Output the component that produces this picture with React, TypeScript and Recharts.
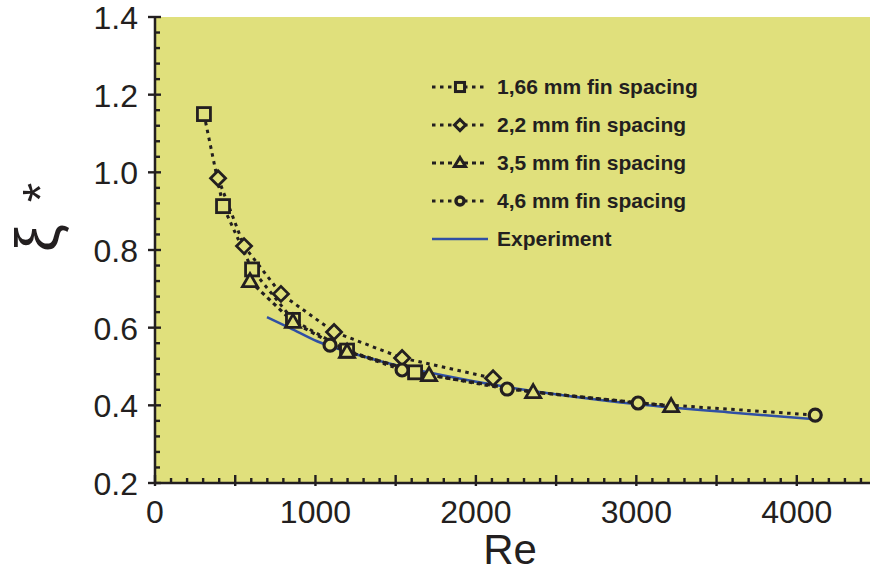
import React from 'react';
import { LineChart, Line, XAxis, YAxis, CartesianGrid, Legend, Label } from 'recharts';

// ---- data ----
const spacing166 = [
  { re: 305, xi: 1.15 },
  { re: 424, xi: 0.913 },
  { re: 605, xi: 0.75 },
  { re: 860, xi: 0.62 },
  { re: 1197, xi: 0.541 },
  { re: 1621, xi: 0.485 },
];
const spacing22 = [
  { re: 393, xi: 0.985 },
  { re: 555, xi: 0.81 },
  { re: 785, xi: 0.687 },
  { re: 1116, xi: 0.589 },
  { re: 1540, xi: 0.522 },
  { re: 2107, xi: 0.47 },
];
const spacing35 = [
  { re: 592, xi: 0.72 },
  { re: 860, xi: 0.615 },
  { re: 1197, xi: 0.538 },
  { re: 1708, xi: 0.478 },
  { re: 2357, xi: 0.434 },
  { re: 3217, xi: 0.398 },
];
const spacing46 = [
  { re: 1091, xi: 0.555 },
  { re: 1540, xi: 0.491 },
  { re: 2195, xi: 0.442 },
  { re: 3011, xi: 0.406 },
  { re: 4115, xi: 0.375 },
];
const experiment = [
  { re: 698, xi: 0.627 },
  { re: 842, xi: 0.599 },
  { re: 1010, xi: 0.565 },
  { re: 1216, xi: 0.536 },
  { re: 1421, xi: 0.512 },
  { re: 1800, xi: 0.477 },
  { re: 2195, xi: 0.447 },
  { re: 2600, xi: 0.423 },
  { re: 3011, xi: 0.403 },
  { re: 3604, xi: 0.381 },
  { re: 4096, xi: 0.365 },
];

const xLabelTicks = [0, 1000, 2000, 3000, 4000];
const xMajorTicks = [0, 500, 1000, 1500, 2000, 2500, 3000, 3500, 4000, 4500];
const yLabelTicks = [0.2, 0.4, 0.6, 0.8, 1.0, 1.2, 1.4];
const seriesNames = ['1,66 mm fin spacing', '2,2 mm fin spacing', '3,5 mm fin spacing', '4,6 mm fin spacing', 'Experiment'];

const X_DOMAIN: [number, number] = [0, 4500];
const Y_DOMAIN: [number, number] = [0.2, 1.4];
const xMinorTicks = Array.from({ length: 46 }, (_, i) => i * 100);
const yMinorTicks = Array.from({ length: 31 }, (_, i) => Math.round((0.2 + i * 0.04) * 100) / 100);

const INK = '#231f20';
const BG = '#e0e07c';
const BLUE = '#3050a4';
const FONT = '"Liberation Sans", Arial, Helvetica, sans-serif';

const near = (arr: number[], v: number) => arr.some((a) => Math.abs(a - v) < 1e-6);

const BottomTick = (props: any) => {
  const { x, y, payload } = props;
  const v = payload.value;
  const major = near(xMajorTicks, v);
  return (
    <g>
      <line x1={x} x2={x} y1={major ? y - 8 : y - 5} y2={major ? y + 3 : y} stroke={INK} strokeWidth={2.4} />
      {near(xLabelTicks, v) && (
        <text x={x} y={y + 40} textAnchor="middle" fontSize={32} fontFamily={FONT} fill={INK}>
          {v}
        </text>
      )}
    </g>
  );
};

const TopTick = (props: any) => {
  const { x, y, payload } = props;
  const major = near(xMajorTicks, payload.value);
  return <line x1={x} x2={x} y1={y} y2={major ? y + 8 : y + 6} stroke={INK} strokeWidth={2.4} />;
};

const LeftTick = (props: any) => {
  const { x, y, payload } = props;
  const v = payload.value;
  const major = near(yLabelTicks, v);
  return (
    <g>
      <line x1={major ? x - 7 : x} x2={major ? x + 6 : x + 5} y1={y} y2={y} stroke={INK} strokeWidth={2.4} />
      {major && (
        <text x={x - 17} y={y + 12} textAnchor="end" fontSize={32} fontFamily={FONT} fill={INK}>
          {v.toFixed(1)}
        </text>
      )}
    </g>
  );
};

const Marker = ({ cx, cy, kind, size = 1, sw = 2.8 }: { cx: number; cy: number; kind: string; size?: number; sw?: number }) => {
  const s = 6.5 * size;
  const common = { fill: BG, stroke: INK, strokeWidth: sw };
  if (kind === 'square') return <rect x={cx - s} y={cy - s} width={2 * s} height={2 * s} {...common} />;
  if (kind === 'diamond')
    return <polygon points={`${cx},${cy - s - 1} ${cx + s + 1},${cy} ${cx},${cy + s + 1} ${cx - s - 1},${cy}`} {...common} />;
  if (kind === 'triangle')
    return <polygon points={`${cx},${cy - s - 1} ${cx + s + 1},${cy + s - 1} ${cx - s - 1},${cy + s - 1}`} {...common} />;
  return <circle cx={cx} cy={cy} r={s - 0.5} fill={BG} stroke={INK} strokeWidth={sw + 0.4} />;
};

const dotFor = (kind: string) => (p: any) => {
  if (p.cx == null || p.cy == null) return <g key={p.key ?? p.index} />;
  return (
    <g key={`${kind}-${p.index}`}>
      <Marker cx={p.cx} cy={p.cy} kind={kind} />
    </g>
  );
};

const kinds = ['square', 'diamond', 'triangle', 'circle', 'line'];
const dashes = ['3.5 4.5', '3.5 4.5', '4 4', '3.5 4.5'];

const LegendContent = () => (
  <div style={{ fontFamily: FONT, fontWeight: 'bold', fontSize: 21, color: INK }}>
    {seriesNames.map((name, i) => (
      <div key={name} style={{ height: 38, display: 'flex', alignItems: 'center' }}>
        <svg width={67} height={24} style={{ display: 'block' }}>
          {kinds[i] === 'line' ? (
            <line x1={2} x2={58} y1={12} y2={12} stroke={BLUE} strokeWidth={2.5} />
          ) : (
            <>
              <line x1={2} x2={58} y1={12} y2={12} stroke={INK} strokeWidth={3} strokeDasharray={dashes[i]} />
              <Marker cx={30} cy={12} kind={kinds[i]} size={0.7} sw={3} />
            </>
          )}
        </svg>
        <span style={{ whiteSpace: 'nowrap' }}>{name}</span>
      </div>
    ))}
  </div>
);

export default function App() {
  return (
    <div style={{ position: 'absolute', left: 0, top: 0, width: 870, height: 574, overflow: 'hidden', background: '#fff' }}>
      <LineChart width={890} height={574} margin={{ top: 17, right: 13, left: 0, bottom: 0 }}>
        <CartesianGrid horizontal={false} vertical={false} fill={BG} stroke="none" />
        <XAxis
          xAxisId="top"
          orientation="top"
          type="number"
          dataKey="re"
          domain={X_DOMAIN}
          ticks={xMinorTicks}
          interval={0}
          height={0}
          tickSize={0}
          tickMargin={0}
          tickLine={false}
          tick={<TopTick />}
          axisLine={{ stroke: INK, strokeWidth: 2.5 }}
          allowDataOverflow
        />
        <XAxis
          type="number"
          dataKey="re"
          domain={X_DOMAIN}
          ticks={xMinorTicks}
          interval={0}
          height={91}
          tickSize={0}
          tickMargin={0}
          tickLine={false}
          tick={<BottomTick />}
          axisLine={{ stroke: INK, strokeWidth: 2.5 }}
          allowDataOverflow
        >
          <Label
            content={() => (
              <text x={510} y={564} textAnchor="middle" fontSize={42} fontFamily={FONT} fill={INK}>
                Re
              </text>
            )}
          />
        </XAxis>
        <YAxis
          type="number"
          dataKey="xi"
          domain={Y_DOMAIN}
          ticks={yMinorTicks}
          interval={0}
          width={155}
          tickSize={0}
          tickMargin={0}
          tickLine={false}
          tick={<LeftTick />}
          axisLine={{ stroke: INK, strokeWidth: 2.5 }}
          allowDataOverflow
        >
          <Label
            content={() => (
              <text
                x={58}
                y={252}
                transform="rotate(-90 58 252)"
                textAnchor="start"
                fontFamily={FONT}
                fill={INK}
              >
                <tspan fontSize={62}>ξ</tspan>
                <tspan dx={22} fontSize={50}>*</tspan>
              </text>
            )}
          />
        </YAxis>
        <Legend
          layout="vertical"
          align="center"
          verticalAlign="middle"
          content={<LegendContent />}
          wrapperStyle={{ left: 430, top: 68, width: 300, height: 200 }}
        />
        <Line data={experiment} dataKey="xi" type="monotone" stroke={BLUE} strokeWidth={2.5} dot={false} isAnimationActive={false} legendType="none" />
        <Line data={spacing166} dataKey="xi" stroke={INK} strokeWidth={3} strokeDasharray={dashes[0]} dot={dotFor('square')} isAnimationActive={false} />
        <Line data={spacing22} dataKey="xi" stroke={INK} strokeWidth={3} strokeDasharray={dashes[1]} dot={dotFor('diamond')} isAnimationActive={false} />
        <Line data={spacing35} dataKey="xi" stroke={INK} strokeWidth={3.2} strokeDasharray={dashes[2]} dot={dotFor('triangle')} isAnimationActive={false} />
        <Line data={spacing46} dataKey="xi" stroke={INK} strokeWidth={3} strokeDasharray={dashes[3]} dot={dotFor('circle')} isAnimationActive={false} />
      </LineChart>
    </div>
  );
}
